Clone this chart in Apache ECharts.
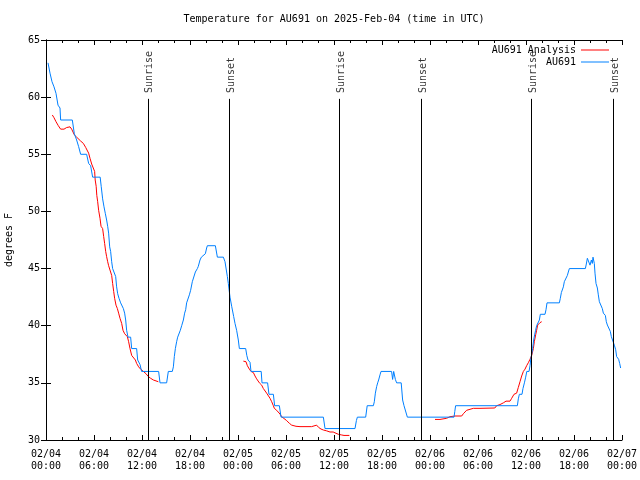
<!DOCTYPE html>
<html>
<head>
<meta charset="utf-8">
<script src="https://cdn.jsdelivr.net/npm/echarts@6/dist/echarts.min.js"></script>
<style>html,body{margin:0;padding:0;background:#fff}#c{width:640px;height:480px}</style>
</head>
<body>
<div id="c"></div>
<script>
// Hours since 2025-02-04 00:00 UTC
const xTickLabels = ['02/04\n00:00','02/04\n06:00','02/04\n12:00','02/04\n18:00','02/05\n00:00','02/05\n06:00','02/05\n12:00','02/05\n18:00','02/06\n00:00','02/06\n06:00','02/06\n12:00','02/06\n18:00','02/07\n00:00'];
const sunHours = [12.73, 22.88, 36.7, 46.9, 60.68, 70.92];
const sunNames = ['Sunrise','Sunset','Sunrise','Sunset','Sunrise','Sunset'];

const obsHours = [0.25,0.5,0.75,1.0,1.25,1.5,1.75,1.83,3.29,3.54,3.83,4.08,4.33,5.08,5.33,5.58,5.83,6.77,6.9,7.08,7.25,7.42,7.58,7.71,7.83,7.96,8.08,8.21,8.33,8.58,8.71,8.83,8.96,9.125,9.33,9.58,9.67,9.83,9.96,10.08,10.25,10.58,10.71,11.33,11.46,11.75,11.95,14.08,14.25,15.08,15.29,15.79,15.92,16.04,16.17,16.33,16.46,16.67,16.79,16.96,17.17,17.33,17.46,17.58,17.75,17.92,18.08,18.29,18.46,18.67,18.92,19.04,19.25,19.42,19.92,20.08,20.17,21.17,21.42,22.17,22.375,22.67,22.79,23.0,23.21,23.46,23.625,23.83,24.04,24.17,24.96,25.1,25.25,25.5,25.625,26.9,27.0,27.7,27.87,28.42,28.58,29.17,29.38,34.67,34.875,38.625,38.8,38.92,39.96,40.15,40.92,41.04,41.17,41.33,41.46,41.58,41.75,41.875,43.2,43.33,43.46,43.67,43.83,44.4,44.58,44.75,44.96,45.17,51.0,51.1,51.2,58.92,59.04,59.17,59.5,59.62,59.8,59.96,60.1,60.38,60.5,60.6,60.71,60.83,60.96,61.08,61.2,61.33,61.54,61.67,61.79,62.375,62.5,62.625,64.17,64.29,64.42,64.54,64.67,64.79,65.04,65.17,65.29,65.42,67.42,67.54,67.67,67.875,68.0,68.17,68.29,68.375,68.54,68.625,68.75,68.92,69.04,69.17,69.42,69.54,69.67,69.92,70.04,70.17,70.42,70.54,70.67,70.92,71.04,71.21,71.33,71.58,71.71,71.83];
const obsTemp = [63,62.1,61.35,60.9,60.33,59.3,59.05,58,58,56.8,56.25,55.67,55,55,54.2,54,53,53,52.2,51.1,50.4,49.8,49.25,48.7,48.1,46.9,46.5,45.6,45,45,44.3,43.4,42.8,42.4,42,42,41.5,41.1,40.5,39.6,39,39,38,38,37,36.6,36,36,35,35,36,36,36.4,37.3,38,38.6,39,39.05,39.6,40,40.5,41.1,41.4,42,42.1,42.7,43.1,43.85,44,44.7,45,45.2,45.75,46,46.3,46.8,47,47,46,46,45.6,44.3,43.7,42.5,41.7,40.8,40.2,39.6,38.75,38,38,37.4,37,36.8,36,36,35,35,34,34,33,33,32,32,31,31,31.7,32,32,33,33,33.35,34.1,34.67,35,35.25,35.7,36,36,35.3,36,35.3,35,35,33.5,33,33,32,32,32.5,33,33,33.6,34,34,34.5,35,35.5,36,36,36.5,37.1,37.5,38,38.75,39.2,39.6,40,40,40.5,41,41,41.4,42,42,42.4,42.9,43,43.4,43.85,44,44.4,44.7,45,45,45.4,45.9,46,45.3,45.75,45.45,46,45.45,44.6,43.7,43.3,42.7,42.1,42,41.5,41.1,40.9,40.35,40.06,39.9,39.5,39.04,38.9,38.3,37.9,37.3,37.06,36.7,36.3];

const anaHours = [0.79,1.0,1.25,1.54,1.83,2.25,2.58,3.0,3.21,3.54,3.83,4.08,4.33,4.67,4.96,5.08,5.33,5.5,5.71,5.92,6.08,6.15,6.27,6.35,6.46,6.58,6.75,6.88,7.08,7.21,7.33,7.46,7.58,7.71,7.83,8.08,8.21,8.33,8.46,8.58,8.75,8.92,9.08,9.25,9.46,9.625,9.83,10.17,10.33,10.5,10.71,10.92,11.17,11.33,11.58,11.83,12.17,12.5,12.79,13.08,13.42,14.04,
  19,
  24.67,25.0,25.17,25.42,25.625,25.92,26.125,26.33,26.67,26.96,27.17,27.375,27.58,27.79,28.0,28.21,28.42,28.54,28.83,29.04,29.25,29.46,29.67,30.08,30.42,30.71,31.25,31.75,33.2,33.42,33.83,34.08,34.375,34.67,35.08,35.5,35.9,36.125,36.54,36.96,37.25,37.92,
  43,
  48.625,49.25,49.33,50.08,50.5,51.125,51.96,52.17,52.58,52.79,53.42,54.25,56.1,56.33,56.75,57.17,57.5,58.0,58.21,58.5,58.83,59.04,59.25,59.46,59.67,59.875,60.08,60.29,60.5,60.71,60.92,61.04,61.21,61.33,61.46,61.67,61.75,61.96];
const anaTemp = [58.44,58.2,57.85,57.5,57.2,57.2,57.34,57.4,57.2,56.7,56.5,56.45,56.16,55.95,55.6,55.6,55.1,54.65,54.15,54.06,53.5,52.75,52.2,51.4,50.85,50.1,49.4,48.7,48.5,47.8,47.2,46.5,46.04,45.6,45.25,45.16,44.4,43.7,43.0,42.4,41.8,41.5,41.1,40.65,40.2,39.6,39.3,39.04,38.6,38.0,37.4,37.3,37.0,36.7,36.4,36.2,36,35.8,35.55,35.4,35.25,35.1,
  null,
  36.9,36.85,36.5,36.2,36,35.9,35.6,35.35,35.0,34.8,34.5,34.4,34.1,33.95,33.65,33.35,33,32.77,32.6,32.5,32.27,32.04,31.9,31.7,31.46,31.3,31.2,31.17,31.17,31.3,31.3,31.1,30.96,30.875,30.8,30.7,30.7,30.6,30.5,30.44,30.4,30.4,
  null,
  31.8,31.8,31.9,31.9,32.04,32.1,32.1,32.3,32.6,32.65,32.77,32.77,32.8,33,33.1,33.25,33.4,33.4,33.65,34.0,34.1,34.6,35.1,35.6,36.0,36.2,36.5,36.76,37.06,37.4,38.0,38.6,39.2,39.6,40.06,40.2,40.27,40.35];

const FONT = 'DejaVu Sans Mono';
const txt = {fontFamily: FONT, fontSize: 10, color: '#000'};
const chart = echarts.init(document.getElementById('c'), null, {renderer: 'canvas'});

const axisCommon = {
  axisLine: {show: true, lineStyle: {color: '#000', width: 1}},
  axisTick: {show: true, inside: true, length: 5, lineStyle: {color: '#000', width: 1}},
  splitLine: {show: false}
};

chart.setOption({
  animation: false,
  backgroundColor: '#fff',
  title: {
    text: 'Temperature for AU691 on 2025-Feb-04 (time in UTC)',
    left: 334, top: 14, textAlign: 'center', padding: 0,
    textStyle: Object.assign({fontWeight: 'normal'}, txt)
  },
  legend: [
    {data: ['AU691 Analysis'], right: 31, top: 45, align: 'right', orient: 'vertical', icon: 'rect',
     itemWidth: 28, itemHeight: 1, padding: 0, textStyle: txt},
    {data: ['AU691'], right: 31, top: 57, align: 'right', orient: 'vertical', icon: 'rect',
     itemWidth: 28, itemHeight: 1, padding: 0, textStyle: txt}
  ],
  grid: {left: 46, right: 18, top: 40, bottom: 40, containLabel: false, outerBoundsMode: 'none'},
  xAxis: [
    Object.assign({}, axisCommon, {
      type: 'value', min: 0, max: 72, interval: 6, position: 'bottom',
      minorTick: {show: true, splitNumber: 3, length: 3, lineStyle: {color: '#000'}},
      axisLabel: Object.assign({formatter: v => xTickLabels[Math.round(v / 6)], lineHeight: 12, margin: 8}, txt)
    }),
    Object.assign({}, axisCommon, {
      type: 'value', min: 0, max: 72, interval: 6, position: 'top',
      minorTick: {show: true, splitNumber: 3, length: 3, lineStyle: {color: '#000'}},
      axisLabel: {show: false}
    })
  ],
  yAxis: [
    Object.assign({}, axisCommon, {
      type: 'value', min: 30, max: 65, interval: 5, position: 'left',
      name: 'degrees F', nameLocation: 'middle', nameGap: 32, nameTextStyle: txt,
      axisLabel: Object.assign({margin: 6}, txt)
    }),
    Object.assign({}, axisCommon, {
      type: 'value', min: 30, max: 65, interval: 5, position: 'right',
      axisLabel: {show: false}
    })
  ],
  series: [
    {
      name: 'AU691 Analysis', type: 'line', xAxisIndex: 0, yAxisIndex: 0,
      data: anaHours.map((h, i) => [h, anaTemp[i]]),
      symbol: 'none', showSymbol: false, connectNulls: false,
      lineStyle: {color: '#ff0000', width: 1}, itemStyle: {color: '#ff0000'}, z: 3
    },
    {
      name: 'AU691', type: 'line', xAxisIndex: 0, yAxisIndex: 0,
      data: obsHours.map((h, i) => [h, obsTemp[i]]),
      symbol: 'none', showSymbol: false,
      lineStyle: {color: '#0080ff', width: 1}, itemStyle: {color: '#0080ff'}, z: 4
    },
    {
      name: 'sun', type: 'scatter', xAxisIndex: 0, yAxisIndex: 0, z: 5, silent: true,
      symbolSize: 0,
      data: sunHours.map((h, i) => ({value: [h, 60.36], name: sunNames[i]})),
      label: Object.assign({show: true, formatter: '{b}', position: 'inside', align: 'left', verticalAlign: 'middle', rotate: 90, offset: [0, 2]}, txt),
      markLine: {
        silent: true, symbol: ['none', 'none'], animation: false,
        label: {show: false},
        lineStyle: {color: '#000', width: 1, type: 'solid'},
        data: sunHours.map(h => [{coord: [h, 30]}, {coord: [h, 59.85]}])
      }
    }
  ]
});
</script>
</body>
</html>
